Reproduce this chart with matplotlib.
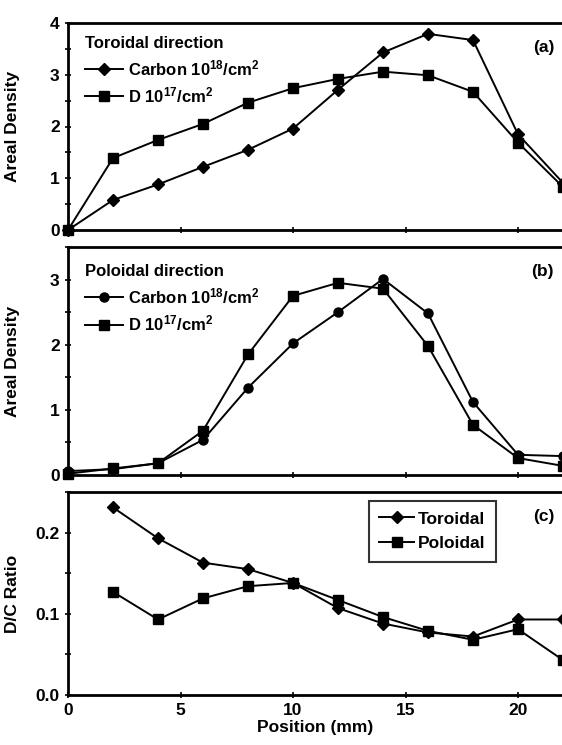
import matplotlib
matplotlib.use("Agg")
import matplotlib.pyplot as plt
from matplotlib.ticker import MultipleLocator, FormatStrFormatter

plt.rcParams['font.family'] = ['Liberation Sans', 'DejaVu Sans']
plt.rcParams['font.weight'] = 'bold'
plt.rcParams['mathtext.fontset'] = 'custom'
plt.rcParams['mathtext.rm'] = 'Liberation Sans:bold'
plt.rcParams['mathtext.bf'] = 'Liberation Sans:bold'
plt.rcParams['mathtext.default'] = 'rm'

position = [0, 2, 4, 6, 8, 10, 12, 14, 16, 18, 20, 22]

tor_carbon = [0.0, 0.58, 0.88, 1.22, 1.55, 1.96, 2.71, 3.43, 3.79, 3.67, 1.85, 0.91]
tor_d = [0.0, 1.39, 1.74, 2.05, 2.46, 2.74, 2.92, 3.06, 2.99, 2.67, 1.69, 0.83]

pol_carbon = [0.06, 0.09, 0.18, 0.54, 1.34, 2.02, 2.50, 3.01, 2.48, 1.12, 0.31, 0.29]
pol_d = [0.02, 0.10, 0.18, 0.68, 1.85, 2.75, 2.95, 2.86, 1.98, 0.77, 0.26, 0.14]

ratio_pos = [2, 4, 6, 8, 10, 12, 14, 16, 18, 20, 22]
ratio_tor = [0.231, 0.193, 0.163, 0.155, 0.138, 0.107, 0.088, 0.077, 0.072, 0.093, 0.093]
ratio_pol = [0.127, 0.093, 0.119, 0.134, 0.138, 0.117, 0.096, 0.079, 0.068, 0.081, 0.043]

W, H = 562, 745
fig = plt.figure(figsize=(W / 100, H / 100), dpi=100)
LEFT = 68

def ax_at(top, bottom, left=LEFT, right=563):
    return fig.add_axes([left / W, 1 - bottom / H, (right - left) / W, (bottom - top) / H])

ax_a = ax_at(23, 230)
ax_b = ax_at(247, 475)
ax_c = ax_at(492, 695)

lw = 1.4
for ax in (ax_a, ax_b, ax_c):
    ax.set_xlim(0, 22)
    ax.xaxis.set_major_locator(MultipleLocator(5))
    for s in ('left', 'bottom', 'top'):
        ax.spines[s].set_linewidth(2.0)
    ax.spines['right'].set_visible(False)
    ax.tick_params(axis='both', which='both', direction='inout', width=1.2, labelsize=12.5, pad=4)
    ax.tick_params(axis='both', which='major', length=4)
    ax.tick_params(axis='y', which='minor', length=4)
    ax.tick_params(top=False, right=False)

ax_a.plot(position, tor_carbon, color='black', lw=lw, marker='D', ms=6.5, label='Carbon 10$^{18}$/cm$^{2}$', clip_on=False, zorder=3)
ax_a.plot(position, tor_d, color='black', lw=lw, marker='s', ms=7, label='D 10$^{17}$/cm$^{2}$', clip_on=False, zorder=3)
ax_a.set_ylim(0, 4)
ax_a.yaxis.set_major_locator(MultipleLocator(1))
ax_a.yaxis.set_minor_locator(MultipleLocator(0.5))
ax_a.tick_params(axis='x', labelbottom=False)
ax_a.set_ylabel('Areal Density', fontsize=12.5, fontweight='bold')

ax_b.plot(position, pol_carbon, color='black', lw=lw, marker='o', ms=6.5, label='Carbon 10$^{18}$/cm$^{2}$', clip_on=False, zorder=3)
ax_b.plot(position, pol_d, color='black', lw=lw, marker='s', ms=7, label='D 10$^{17}$/cm$^{2}$', clip_on=False, zorder=3)
ax_b.set_ylim(0, 3.5)
ax_b.yaxis.set_major_locator(MultipleLocator(1))
ax_b.yaxis.set_minor_locator(MultipleLocator(0.5))
ax_b.tick_params(axis='x', labelbottom=False)
ax_b.set_ylabel('Areal Density', fontsize=12.5, fontweight='bold')

ax_c.plot(ratio_pos, ratio_tor, color='black', lw=lw, marker='D', ms=6.5, label='Toroidal', clip_on=False, zorder=3)
ax_c.plot(ratio_pos, ratio_pol, color='black', lw=lw, marker='s', ms=7, label='Poloidal', clip_on=False, zorder=3)
ax_c.set_ylim(0, 0.25)
ax_c.yaxis.set_major_locator(MultipleLocator(0.1))
ax_c.yaxis.set_minor_locator(MultipleLocator(0.05))
ax_c.yaxis.set_major_formatter(FormatStrFormatter('%.1f'))
ax_c.set_ylabel('D/C Ratio', fontsize=12.5, fontweight='bold')
ax_c.set_xlabel('Position (mm)', fontsize=12.5, fontweight='bold', labelpad=1)

for ax in (ax_a, ax_b, ax_c):
    ax.yaxis.set_label_coords((20 - LEFT) / 495, 0.5)

for ax, title, tag, yoff in ((ax_a, 'Toroidal direction', '(a)', 1.02), (ax_b, 'Poloidal direction', '(b)', 1.0)):
    ax.legend(title=title, loc='upper left', bbox_to_anchor=(0.0, yoff), frameon=False,
              fontsize=12, title_fontproperties={'size': 12, 'weight': 'bold'},
              alignment='left', handlelength=2.3, handletextpad=0.3, labelspacing=0.45,
              borderaxespad=0.6)
    ax.annotate(tag, xy=(1, 1), xycoords='axes fraction', xytext=(-9, -17), textcoords='offset pixels',
                ha='right', va='top', fontsize=12.5, fontweight='bold')

leg_c = ax_c.legend(loc='upper left', bbox_to_anchor=((369 - LEFT) / 495, (695 - 501) / 203),
                    borderaxespad=0, frameon=True, fancybox=False,
                    edgecolor='black', fontsize=12.5, handlelength=2.0, handletextpad=0.2,
                    labelspacing=0.55, borderpad=0.6)
leg_c.get_frame().set_linewidth(1.5)
ax_c.annotate('(c)', xy=(1, 1), xycoords='axes fraction', xytext=(-9, -17), textcoords='offset pixels',
              ha='right', va='top', fontsize=12.5, fontweight='bold')

fig.savefig('out.png', dpi=100)
